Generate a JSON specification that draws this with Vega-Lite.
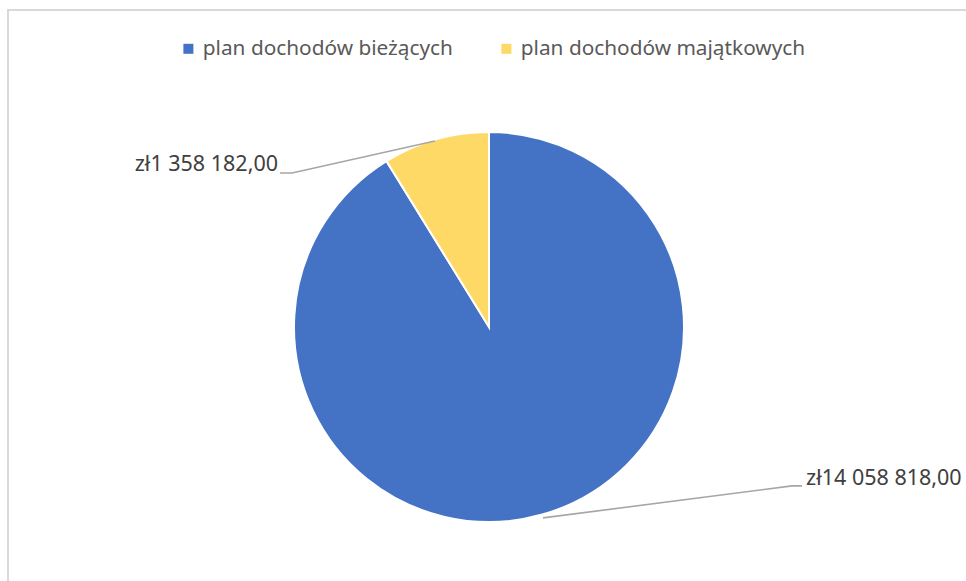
{
  "$schema": "https://vega.github.io/schema/vega-lite/v6.json",
  "width": 958,
  "height": 571,
  "autosize": "none",
  "padding": {"left": 8, "top": 10, "right": 0, "bottom": 0},
  "background": "white",
  "config": {
    "view": {"stroke": "#d9d9d9", "strokeWidth": 2, "strokeDash": [958, 1529, 571]},
    "font": "Noto Sans",
    "locale": {"number": {"decimal": ",", "thousands": " ", "grouping": [3], "currency": ["zł", ""]}}
  },
  "datasets": {
    "slices": [
      {"category": "plan dochodów bieżących", "value": 14058818.00, "labelX": 1.626, "labelY": -0.779, "side": "right"},
      {"category": "plan dochodów majątkowych", "value": 1358182.00, "labelX": -1.082, "labelY": 0.831, "side": "left"}
    ],
    "leaders": [
      {"category": "plan dochodów bieżących", "step": 1, "px": 0.277, "py": -0.979},
      {"category": "plan dochodów bieżących", "step": 2, "px": 1.554, "py": -0.815},
      {"category": "plan dochodów bieżących", "step": 3, "px": 1.605, "py": -0.815},
      {"category": "plan dochodów majątkowych", "step": 1, "px": -0.277, "py": 0.954},
      {"category": "plan dochodów majątkowych", "step": 2, "px": -1.010, "py": 0.790},
      {"category": "plan dochodów majątkowych", "step": 3, "px": -1.072, "py": 0.790}
    ]
  },
  "layer": [
    {
      "data": {"name": "slices"},
      "mark": {"type": "arc", "radius": 195, "stroke": "white", "strokeWidth": 2},
      "encoding": {
        "theta": {"field": "value", "type": "quantitative", "stack": true},
        "x": {"datum": 0, "type": "quantitative", "scale": {"domain": [-2.4667, 2.4462], "zero": false, "nice": false}, "axis": null},
        "y": {"datum": 0, "type": "quantitative", "scale": {"domain": [-1.3026, 1.6256], "zero": false, "nice": false}, "axis": null},
        "color": {
          "field": "category", "type": "nominal",
          "scale": {"domain": ["plan dochodów bieżących", "plan dochodów majątkowych"], "range": ["#4472C4", "#FFD966"]},
          "legend": {
            "title": null, "orient": "none", "direction": "horizontal",
            "legendX": 170, "legendY": 28,
            "symbolType": "square", "symbolSize": 100, "symbolStrokeWidth": 0,
            "labelFontSize": 20.8, "labelColor": "#595959", "labelFont": "Noto Sans",
            "labelOffset": 4, "columnPadding": 43, "labelLimit": 400
          }
        }
      }
    },
    {
      "data": {"name": "leaders"},
      "mark": {"type": "line", "stroke": "#a6a6a6", "strokeWidth": 1.6},
      "encoding": {
        "x": {"field": "px", "type": "quantitative", "scale": {"domain": [-2.4667, 2.4462], "zero": false, "nice": false}, "axis": null},
        "y": {"field": "py", "type": "quantitative", "scale": {"domain": [-1.3026, 1.6256], "zero": false, "nice": false}, "axis": null},
        "detail": {"field": "category"},
        "order": {"field": "step", "type": "quantitative"}
      }
    },
    {
      "data": {"name": "slices"},
      "transform": [{"filter": "datum.side === 'right'"}],
      "mark": {"type": "text", "fontSize": 21.5, "color": "#404040", "baseline": "middle", "align": "left"},
      "encoding": {
        "x": {"field": "labelX", "type": "quantitative", "scale": {"domain": [-2.4667, 2.4462], "zero": false, "nice": false}, "axis": null},
        "y": {"field": "labelY", "type": "quantitative", "scale": {"domain": [-1.3026, 1.6256], "zero": false, "nice": false}, "axis": null},
        "text": {"field": "value", "type": "quantitative", "format": "$,.2f"}
      }
    },
    {
      "data": {"name": "slices"},
      "transform": [{"filter": "datum.side === 'left'"}],
      "mark": {"type": "text", "fontSize": 21.5, "color": "#404040", "baseline": "middle", "align": "right"},
      "encoding": {
        "x": {"field": "labelX", "type": "quantitative", "scale": {"domain": [-2.4667, 2.4462], "zero": false, "nice": false}, "axis": null},
        "y": {"field": "labelY", "type": "quantitative", "scale": {"domain": [-1.3026, 1.6256], "zero": false, "nice": false}, "axis": null},
        "text": {"field": "value", "type": "quantitative", "format": "$,.2f"}
      }
    }
  ]
}
